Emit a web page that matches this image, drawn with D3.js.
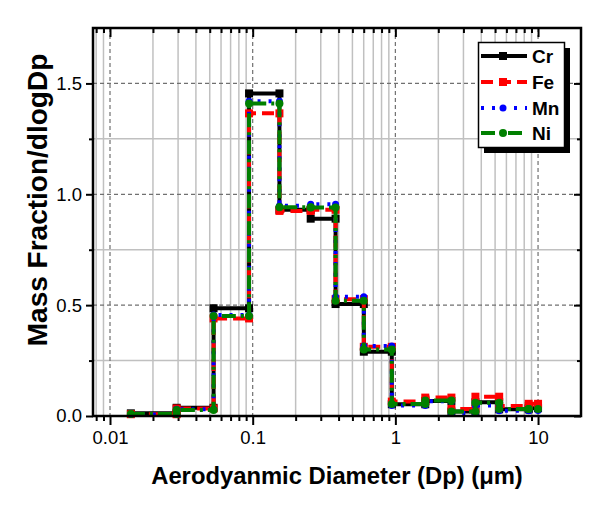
<!DOCTYPE html>
<html><head><meta charset="utf-8">
<script src="https://cdn.jsdelivr.net/npm/d3@7"></script>
<style>body{margin:0;background:#fff}svg{display:block}text{font-family:Arial,"Liberation Sans",sans-serif}</style>
</head><body>
<svg id="c" width="612" height="508"></svg>
<script>
// bin edges (µm) and per-series mass fraction / dlogDp per bin
const edges = [0.014, 0.0293, 0.0532, 0.0943, 0.154, 0.255, 0.381, 0.601, 0.944, 1.62, 2.47, 3.64, 5.34, 8.6, 10];
const cr = [0.012, 0.037, 0.486, 1.455, 0.93, 0.89, 0.505, 0.29, 0.053, 0.068, 0.02, 0.062, 0.03, 0.035];
const fe = [0.008, 0.034, 0.44, 1.365, 0.925, 0.93, 0.527, 0.312, 0.065, 0.083, 0.032, 0.087, 0.045, 0.055];
const mn = [0.007, 0.031, 0.455, 1.42, 0.948, 0.955, 0.538, 0.316, 0.047, 0.066, 0.014, 0.047, 0.024, 0.025];
const ni = [0.009, 0.027, 0.451, 1.41, 0.941, 0.94, 0.52, 0.30, 0.054, 0.07, 0.02, 0.06, 0.032, 0.032];
const seriesNames = ["Cr", "Fe", "Mn", "Ni"];
const xMajor = [0.01, 0.1, 1, 10];
const xTickLabels = ["0.01", "0.1", "1", "10"];
const yMajor = [0.0, 0.5, 1.0, 1.5];
const yTickLabels = ["0.0", "0.5", "1.0", "1.5"];
const yMinor = [0.25, 0.75, 1.25];

const styles = [
  {color:"#000000", dash:null, marker:"square", size:8},
  {color:"#ff0000", dash:"12,6", marker:"square", size:8},
  {color:"#0000ff", dash:"3,8", marker:"circle", size:7},
  {color:"#008000", dash:"14,5,3,5", marker:"circle", size:8}
];
const values = [cr, fe, mn, ni];

const svg = d3.select("#c");
const L = 93, R = 581, T = 28, B = 416;
const x = d3.scaleLog().domain([0.0076, 20]).range([L, R]);
const y = d3.scaleLinear().domain([0, 1.75]).range([B, T]);

// minor x values
const xMinor = [];
for (let k = -3; k <= 1; k++) for (let m = 2; m <= 9; m++) {
  const v = m * Math.pow(10, k);
  if (v > x.domain()[0] && v < x.domain()[1]) xMinor.push(v);
}

const g = svg.append("g");
// grid
g.selectAll(".vmin").data(xMinor).enter().append("line")
  .attr("x1", d => x(d)).attr("x2", d => x(d)).attr("y1", T).attr("y2", B)
  .attr("stroke", "#c0c0c0").attr("stroke-width", 1.5);
g.selectAll(".hmin").data(yMinor).enter().append("line")
  .attr("x1", L).attr("x2", R).attr("y1", d => y(d)).attr("y2", d => y(d))
  .attr("stroke", "#c0c0c0").attr("stroke-width", 1.5);
g.selectAll(".vmaj").data(xMajor).enter().append("line")
  .attr("x1", d => x(d)).attr("x2", d => x(d)).attr("y1", T).attr("y2", B)
  .attr("stroke", "#707070").attr("stroke-width", 1.2).attr("stroke-dasharray", "4,3");
g.selectAll(".hmaj").data(yMajor.slice(1)).enter().append("line")
  .attr("x1", L).attr("x2", R).attr("y1", d => y(d)).attr("y2", d => y(d))
  .attr("stroke", "#707070").attr("stroke-width", 1.2).attr("stroke-dasharray", "4,3");

// axes
const fmtX = d => { const i = xMajor.indexOf(d); return i >= 0 ? xTickLabels[i] : ""; };
const xAxis = d3.axisBottom(x).tickValues(xMajor).tickFormat(fmtX).tickSize(9).tickPadding(6);
const xAxisMinor = d3.axisBottom(x).tickValues(xMinor).tickFormat("").tickSize(5);
const yAxis = d3.axisLeft(y).tickValues(yMajor).tickFormat((d, i) => yTickLabels[i]).tickSize(7).tickPadding(4);
const yAxisMinor = d3.axisLeft(y).tickValues(yMinor).tickFormat("").tickSize(4);
const xTop = d3.axisBottom(x).tickValues(xMajor).tickFormat("").tickSize(9);
const xTopMinor = d3.axisBottom(x).tickValues(xMinor).tickFormat("").tickSize(5);
const yRight = d3.axisLeft(y).tickValues(yMajor).tickFormat("").tickSize(7);
const yRightMinor = d3.axisLeft(y).tickValues(yMinor).tickFormat("").tickSize(4);

function styleAxis(sel) {
  sel.select(".domain").remove();
  sel.selectAll("line").attr("stroke", "#000").attr("stroke-width", 2);
  sel.selectAll("text").attr("fill", "#000").style("font-size", "18.5px");
}
svg.append("g").attr("transform", `translate(0,${B})`).call(xAxisMinor).call(styleAxis);
svg.append("g").attr("transform", `translate(0,${B})`).call(xAxis).call(styleAxis);
svg.append("g").attr("transform", `translate(${L},0)`).call(yAxisMinor).call(styleAxis);
svg.append("g").attr("transform", `translate(${L},0)`).call(yAxis).call(styleAxis);
svg.append("g").attr("transform", `translate(0,${T})`).call(xTopMinor).call(styleAxis);
svg.append("g").attr("transform", `translate(0,${T})`).call(xTop).call(styleAxis);
svg.append("g").attr("transform", `translate(${R},0)`).call(yRightMinor).call(styleAxis);
svg.append("g").attr("transform", `translate(${R},0)`).call(yRight).call(styleAxis);

// series
const line = d3.line().x(d => x(d[0])).y(d => y(d[1]));
values.forEach((vals, s) => {
  const st = styles[s];
  const pts = [];
  vals.forEach((v, i) => { pts.push([edges[i], v]); pts.push([edges[i + 1], v]); });
  const gs = svg.append("g");
  gs.append("path").attr("d", line(pts)).attr("fill", "none")
    .attr("stroke", st.color).attr("stroke-width", 4)
    .attr("stroke-dasharray", st.dash);
  pts.forEach(p => drawMarker(gs, x(p[0]), y(p[1]), st));
});

function drawMarker(sel, cx, cy, st) {
  if (st.marker === "square") {
    sel.append("rect").attr("x", cx - st.size / 2).attr("y", cy - st.size / 2)
      .attr("width", st.size).attr("height", st.size).attr("fill", st.color);
  } else {
    sel.append("circle").attr("cx", cx).attr("cy", cy).attr("r", st.size / 2).attr("fill", st.color);
  }
}

// frame
svg.append("rect").attr("x", L).attr("y", T).attr("width", R - L).attr("height", B - T)
  .attr("fill", "none").attr("stroke", "#000").attr("stroke-width", 2.5);

// legend
const lg = svg.append("g");
lg.append("rect").attr("x", 484).attr("y", 48).attr("width", 86).attr("height", 105).attr("fill", "#000");
lg.append("rect").attr("x", 478.5).attr("y", 42.5).attr("width", 86).attr("height", 105)
  .attr("fill", "#fff").attr("stroke", "#000").attr("stroke-width", 1.5);
const legY = [56, 82, 108, 133];
seriesNames.forEach((n, s) => {
  const st = styles[s];
  lg.append("line").attr("x1", 481).attr("x2", 527).attr("y1", legY[s]).attr("y2", legY[s])
    .attr("stroke", st.color).attr("stroke-width", 4).attr("stroke-dasharray", st.dash);
  drawMarker(lg, 503, legY[s], st);
  lg.append("text").attr("x", 532).attr("y", legY[s] + 7).text(n)
    .style("font-size", "19px").style("font-weight", "bold").attr("fill", "#000");
});

// titles
svg.append("text").attr("x", 337).attr("y", 484).attr("text-anchor", "middle")
  .style("font-size", "23.8px").style("font-weight", "bold").text("Aerodyanmic Diameter (Dp) (\u03bcm)");
svg.append("text").attr("transform", "translate(47,200) rotate(-90)").attr("text-anchor", "middle")
  .style("font-size", "28px").style("font-weight", "bold").text("Mass Fraction/dlogDp");
</script>
</body></html>
